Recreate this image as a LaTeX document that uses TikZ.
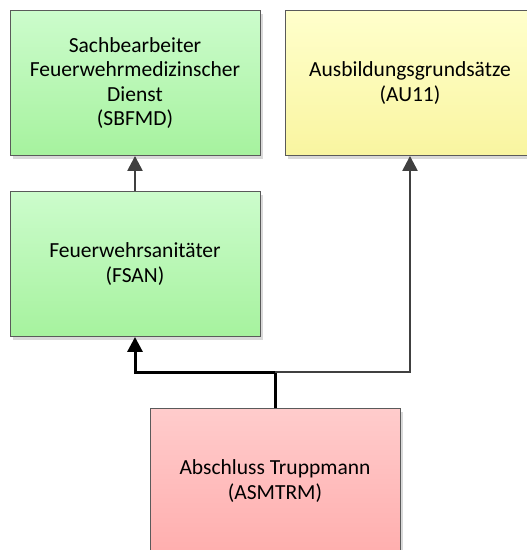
\documentclass[tikz,border=0pt]{standalone}
\usepackage{fontspec}
\setmainfont{Carlito}
\usetikzlibrary{arrows.meta,shadows}
\definecolor{greentop}{HTML}{CCFCCC}
\definecolor{greenbot}{HTML}{A6F29E}
\definecolor{yellowtop}{HTML}{FFFFCC}
\definecolor{yellowbot}{HTML}{F9F5A0}
\definecolor{redtop}{HTML}{FFCCCC}
\definecolor{redbot}{HTML}{FFAEAE}
\definecolor{edgegray}{HTML}{5A5A5A}
\definecolor{linegray}{HTML}{404040}
\tikzset{
  course/.style={draw=edgegray, line width=0.9pt, minimum width=250pt, minimum height=145pt,
    align=center, inner sep=0pt, font=\fontsize{21.5}{24.3}\selectfont,
    drop shadow={shadow xshift=3pt, shadow yshift=-3pt, fill=black!15, opacity=1}},
  greenbox/.style={course, top color=greentop, bottom color=greenbot},
  yellowbox/.style={course, top color=yellowtop, bottom color=yellowbot},
  redbox/.style={course, top color=redtop, bottom color=redbot},
  conn/.style={draw=linegray, line width=2.5pt, -{Triangle[width=15pt,length=15pt]}}
}
\begin{document}
\begin{tikzpicture}[x=1pt,y=-1pt]
        % frame of the picture
        \useasboundingbox (0,0) rectangle (527,550);
        \clip (0,0) rectangle (527,550);
        % the upper row
        \node[greenbox] (sbfmd) at (135,83) {Sachbearbeiter\\Feuerwehrmedizinscher\\Dienst\\(SBFMD)};
        \node[yellowbox] (au11) at (410,83) {Ausbildungsgrundsätze\\(AU11)};
        % the middle row
        \node[greenbox] (fsan) at (135,264) {Feuerwehrsanitäter\\(FSAN)};
        % the bottom row
        \node[redbox] (asmtrm) at (275,481) {Abschluss Truppmann\\(ASMTRM)};
        \coordinate (split) at (275,372);

        % arrows between the boxes
        \draw[conn] (fsan) -- (sbfmd);
        \draw[conn, draw=black, line width=3pt] (asmtrm.north) -- (split) -| (fsan.south);
        \draw[conn] (split) -| (au11.south);
    \end{tikzpicture}
\end{document}
